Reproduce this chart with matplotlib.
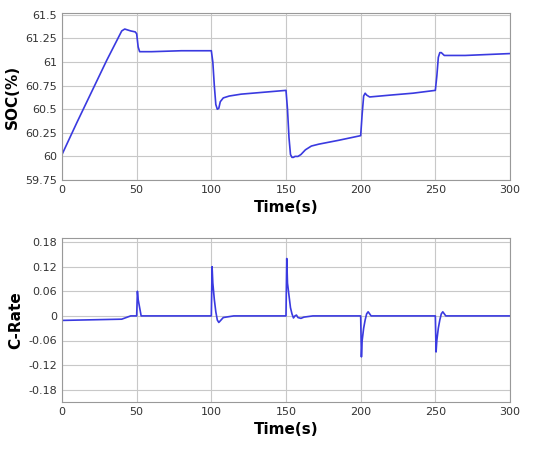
import matplotlib
matplotlib.use("Agg")
import matplotlib.pyplot as plt

soc_t = [0, 10, 20, 30, 40, 42, 44, 46, 49, 50, 51, 52, 60, 80, 100, 101, 102, 103, 104, 105, 106, 108, 112, 120, 135, 150, 151, 152, 153, 154, 155, 156, 158, 160, 163, 167, 172, 185, 200, 201, 202, 203, 204, 206, 220, 235, 250, 251, 252, 253, 254, 256, 270, 285, 300]
soc_v = [60.02, 60.36, 60.69, 61.02, 61.33, 61.35, 61.34, 61.33, 61.32, 61.3, 61.16, 61.11, 61.11, 61.12, 61.12, 61.0, 60.75, 60.55, 60.5, 60.51, 60.58, 60.62, 60.64, 60.66, 60.68, 60.7, 60.5, 60.2, 60.02, 59.99, 59.99, 60.0, 60.0, 60.02, 60.07, 60.11, 60.13, 60.17, 60.22, 60.45, 60.64, 60.67, 60.65, 60.63, 60.65, 60.67, 60.7, 60.85, 61.05, 61.1, 61.1, 61.07, 61.07, 61.08, 61.09]

cr_t = [0, 40, 43, 46, 49, 50, 50.5, 51, 52, 53, 54, 100, 100.5, 101, 102, 103, 104, 105, 106, 108, 115, 150, 150.5, 151, 152, 153, 154, 155, 156, 157, 158, 160, 162, 168, 200, 200.5, 201, 202, 203, 204, 205, 206, 207, 250, 250.5, 251, 252, 253, 254, 255, 256, 257, 300]
cr_v = [-0.011, -0.008, -0.004, 0.0, 0.0, 0.0, 0.06, 0.04, 0.02, 0.0, 0.0, 0.0, 0.12, 0.08, 0.04, 0.01, -0.01, -0.016, -0.012, -0.004, 0.0, 0.0, 0.14, 0.08, 0.05, 0.02, 0.005, -0.005, 0.0, 0.002, -0.004, -0.006, -0.003, 0.0, 0.0, -0.1, -0.06, -0.03, -0.01, 0.005, 0.01, 0.005, 0.0, 0.0, -0.088, -0.06, -0.03, -0.01, 0.005, 0.01, 0.005, 0.0, 0.0]

x_ticks = [0, 50, 100, 150, 200, 250, 300]
soc_ticks = [59.75, 60, 60.25, 60.5, 60.75, 61, 61.25, 61.5]
soc_labels = ["59.75", "60", "60.25", "60.5", "60.75", "61", "61.25", "61.5"]
cr_ticks = [-0.18, -0.12, -0.06, 0, 0.06, 0.12, 0.18]
cr_labels = ["-0.18", "-0.12", "-0.06", "0", "0.06", "0.12", "0.18"]

fig = plt.figure(figsize=(5.33, 4.5), dpi=100)
ax1 = fig.add_axes([62/533, 1-180/450, 448/533, 167/450])
ax2 = fig.add_axes([62/533, 1-402/450, 448/533, 164/450])
line_color = "#3a3ae0"

for ax in (ax1, ax2):
    ax.set_xlim(0, 300)
    ax.set_xticks(x_ticks)
    ax.grid(True, color="#c8c8c8", linewidth=0.8)
    ax.tick_params(labelsize=8, length=0, colors="#333333")
    for s in ax.spines.values():
        s.set_color("#999999")
    ax.set_xlabel("Time(s)", fontsize=11, fontweight="bold")

ax1.plot(soc_t, soc_v, color=line_color, linewidth=1.2)
ax1.set_ylim(59.75, 61.52)
ax1.set_yticks(soc_ticks)
ax1.set_yticklabels(soc_labels)
ax1.set_ylabel("SOC(%)", fontsize=11, fontweight="bold")

ax2.plot(cr_t, cr_v, color=line_color, linewidth=1.2)
ax2.set_ylim(-0.21, 0.19)
ax2.set_yticks(cr_ticks)
ax2.set_yticklabels(cr_labels)
ax2.set_ylabel("C-Rate", fontsize=11, fontweight="bold")

fig.savefig("out.png", dpi=100)
